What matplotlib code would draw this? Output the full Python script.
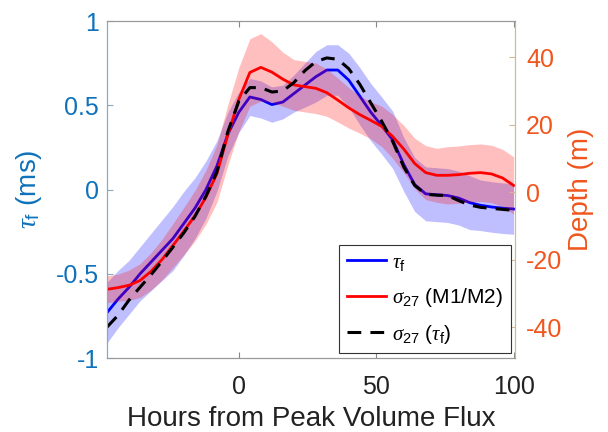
import numpy as np
import matplotlib.pyplot as plt

plt.rcParams['font.family'] = ['Liberation Sans', 'DejaVu Sans']
plt.rcParams['mathtext.fontset'] = 'custom'
plt.rcParams['mathtext.rm'] = 'Liberation Sans'
plt.rcParams['mathtext.it'] = 'Liberation Serif:italic'

# data
hours = [-48, -44, -40, -36, -32, -28, -24, -20, -16, -12, -8, -4,
         0, 4, 8, 12, 16, 20, 24, 28, 32, 36, 40, 44, 48, 52, 56, 60,
         64, 68, 72, 76, 80, 84, 88, 92, 96, 100]

# tau_f (ms), left axis
tau_f = [-0.73, -0.65, -0.58, -0.50, -0.43, -0.36, -0.29, -0.20, -0.11, 0.0, 0.14, 0.33,
         0.46, 0.55, 0.535, 0.505, 0.52, 0.57, 0.62, 0.67, 0.71, 0.71, 0.65, 0.555,
         0.46, 0.38, 0.295, 0.15, 0.03, -0.025, -0.03, -0.035, -0.05, -0.077,
         -0.093, -0.103, -0.11, -0.115]
tau_f_err = [0.18, 0.17, 0.16, 0.16, 0.17, 0.18, 0.19, 0.19, 0.18, 0.17, 0.15, 0.13,
             0.12, 0.11, 0.11, 0.105, 0.10, 0.11, 0.13, 0.15, 0.15, 0.15, 0.16, 0.17,
             0.17, 0.17, 0.17, 0.16, 0.16, 0.16, 0.16, 0.16, 0.16, 0.16,
             0.15, 0.15, 0.15, 0.15]

# sigma_27 depth (m) from M1/M2, right axis
sigma_m = [-28.8, -28.3, -27.6, -26.2, -23.5, -20.0, -15.8, -11.5, -7.0, -1.5, 5.5, 17.0,
           27.5, 35.5, 37.0, 35.6, 33.5, 31.8, 31.3, 30.8, 29.5, 27.3, 25.0, 23.0,
           21.3, 19.5, 16.5, 12.8, 8.5, 5.8, 5.0, 5.0, 5.2, 5.6,
           5.8, 5.4, 4.2, 2.0]
sigma_m_err = [4, 4, 4.5, 5, 5.5, 6, 6.5, 7, 7.5, 8, 8.5, 9,
               9.5, 10, 10, 9, 8, 7.5, 7.5, 7.5, 7, 6.5, 6, 5.5,
               5.5, 6, 6.5, 7, 7.5, 8, 8, 8.5, 8.5, 8.5,
               8.5, 8.5, 8.5, 8.5]

# sigma_27 depth (m) from tau_f
sigma_tau = [-40.0, -36.5, -32.0, -28.2, -24.5, -20.5, -16.3, -12.0, -7.2, -1.2, 6.0, 18.0,
             27.0, 31.0, 31.0, 29.7, 30.0, 32.5, 36.0, 38.7, 39.8, 39.4, 36.6, 32.0,
             26.5, 21.0, 15.0, 7.5, 2.0, -0.6, -0.9, -1.0, -2.5, -3.8,
             -4.5, -4.8, -5.1, -5.4]

x = np.array(hours)
tf = np.array(tau_f)
tfe = np.array(tau_f_err)
sm = np.array(sigma_m)
sme = np.array(sigma_m_err)

left_col = '#0F72BA'
right_col = '#F0561E'

fig = plt.figure(figsize=(6.08, 4.32), dpi=100)
ax = fig.add_axes([0.176, 0.171, 0.671, 0.780])
ax2 = ax.twinx()

ax.fill_between(x, tf - tfe, tf + tfe, color='#0000ff', alpha=0.25, linewidth=0)
l1, = ax.plot(x, tf, color='#0000ff', lw=2, label=r'$\mathit{\tau}_\mathrm{f}$')

ax2.fill_between(x, sm - sme, sm + sme, color='#ff0000', alpha=0.25, linewidth=0)
l2, = ax2.plot(x, sm, color='#ff0000', lw=2, label=r'$\mathit{\sigma}_{27}$ (M1/M2)')
l3, = ax2.plot(x, sigma_tau, color='black', lw=2.2, ls=(0, (4.5, 3)),
               label=r'$\mathit{\sigma}_{27}$ ($\mathit{\tau}_\mathrm{f}$)')

ax.set_xlim(-48, 100.5)
ax.set_ylim(-1, 1)
ax2.set_ylim(-49.2, 50.7)

ax.set_xticks([0, 50, 100])
ax.set_yticks([-1, -0.5, 0, 0.5, 1])
ax.set_yticklabels(['-1', '-0.5', '0', '0.5', '1'])
ax2.set_yticks([-40, -20, 0, 20, 40])
ax2.set_yticklabels(['-40', '-20', '0', '20', '40'])

ax.tick_params(axis='x', direction='in', top=True, length=4, labelsize=18,
               pad=12, colors='#888888', labelcolor='#222222')
ax.tick_params(axis='y', direction='in', length=4, labelsize=18, pad=6,
               colors='#8aa8c0', labelcolor=left_col)
ax2.tick_params(axis='y', direction='in', length=4, labelsize=18, pad=8,
                colors='#d4b896', labelcolor=right_col)

for a in (ax, ax2):
    a.spines['top'].set_color('#999999')
    a.spines['bottom'].set_color('#999999')
    a.spines['left'].set_color('#8aa8c0')
    a.spines['right'].set_color('#d4b896')

ax.set_xlabel('Hours from Peak Volume Flux', fontsize=20, color='#222222', labelpad=5)
ax.set_ylabel(r'$\mathit{\tau}_\mathrm{f}$ (ms)', fontsize=20, color=left_col, labelpad=8)
ax2.set_ylabel('Depth (m)', fontsize=20, color=right_col, labelpad=4)

leg = ax2.legend(handles=[l1, l2, l3], loc='lower right', bbox_to_anchor=(0.99, 0.015),
                 borderaxespad=0, fontsize=15, frameon=True, fancybox=False, framealpha=1,
                 handlelength=1.9, handletextpad=0.3, borderpad=0.35, labelspacing=0.65)
leg.get_frame().set_edgecolor('#333333')
leg.get_frame().set_linewidth(0.8)

fig.savefig('out.png', dpi=100)
